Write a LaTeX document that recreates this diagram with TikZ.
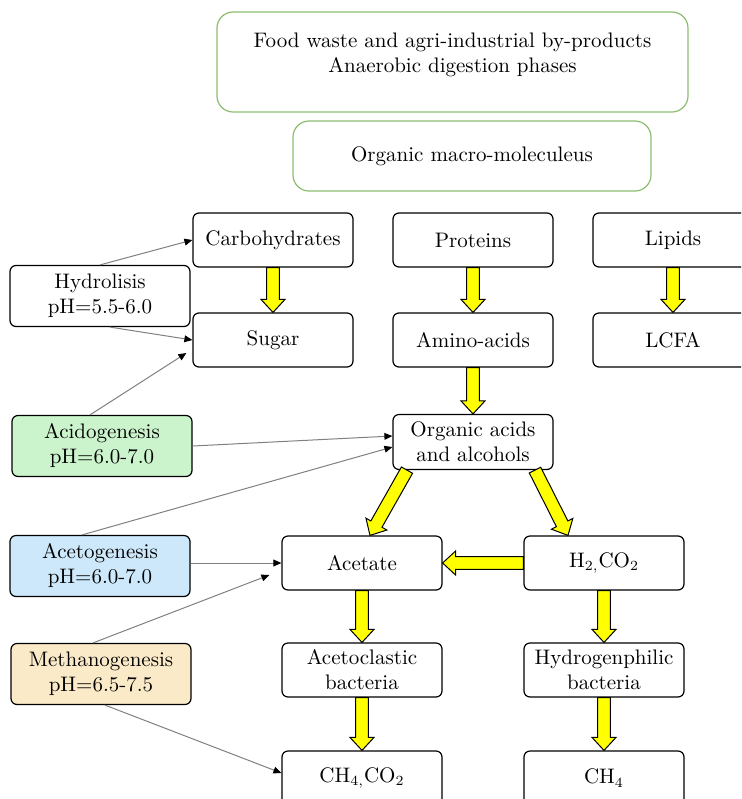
\documentclass[tikz,border=0pt]{standalone}
\usepackage{amsmath}
\usetikzlibrary{arrows.meta, calc}

\definecolor{acidgreen}{RGB}{204,244,204}
\definecolor{acetblue}{RGB}{204,232,250}
\definecolor{methbeige}{RGB}{250,234,200}
\definecolor{framegreen}{RGB}{140,190,110}
\definecolor{fatyellow}{RGB}{255,255,0}

\tikzset{
  stage/.style={draw, rounded corners=3pt, fill=white, line width=0.6pt,
    minimum width=80pt, minimum height=27pt, align=center, inner sep=1pt},
  phase/.style={stage, minimum width=90pt, minimum height=30.5pt},
  headbox/.style={draw=framegreen, rounded corners=8pt, line width=0.6pt, align=center},
  feed/.style={gray, line width=0.5pt, -{Triangle[length=4pt, width=3.4pt, color=black]}},
  fatfill/.style={fill=fatyellow, draw=black, line width=0.5pt, line join=miter}
}

% hollow yellow arrow between two anchors
\newcommand{\fatarrow}[2]{%
  \coordinate (fas) at (#1);
  \coordinate (fae) at (#2);
  \coordinate (fah) at ($(fae)!6.5pt!(fas)$);
  \filldraw[fatfill] ($(fas)!3.2pt!90:(fae)$) -- ($(fah)!3.2pt!90:(fae)$)
    -- ($(fah)!6pt!90:(fae)$) -- (fae) -- ($(fah)!6pt!-90:(fae)$)
    -- ($(fah)!3.2pt!-90:(fae)$) -- ($(fas)!3.2pt!-90:(fae)$) -- cycle;
}

\begin{document}
\begin{tikzpicture}[x=0.5pt, y=-0.5pt, font=\fontsize{10.5}{12.5}\selectfont]
    \useasboundingbox (0,0) rectangle (741,799);
    \clip (0,0) rectangle (741,799);

    % header boxes
    \node[headbox, minimum width=235.5pt, minimum height=50pt] (food) at (452.5,62) {};
    \node[align=center] (foodtext) at ([yshift=3.5pt]food.center)
      {Food waste and agri-industrial by-products\\Anaerobic digestion phases};
    \node[headbox, minimum width=179pt, minimum height=35pt] (macro) at (472,156)
      {Organic macro-moleculeus};

    % substrates and products
    \node[stage] (carb)  at (273,240) {Carbohydrates};
    \node[stage] (prot)  at (473,240) {Proteins};
    \node[stage] (lip)   at (673,240) {Lipids};
    \node[stage] (sugar) at (273,340) {Sugar};
    \node[stage] (amino) at (473,340) {Amino-acids};
    \node[stage] (lcfa)  at (673,340) {LCFA};
    \node[stage, minimum height=27.5pt] (org) at (473,442) {Organic acids\\and alcohols};
    \node[stage] (acet)  at (362,563) {Acetate};
    \node[stage] (htwo)  at (604,563) {H$_{2{,}}$CO$_2$};
    \node[stage] (acl)   at (362,670) {Acetoclastic\\bacteria};
    \node[stage] (hphil) at (604,670) {Hydrogenphilic\\bacteria};
    \node[stage] (mixgas) at (362,778) {CH$_{4{,}}$CO$_2$};
    \node[stage] (meth)  at (604,778) {CH$_4$};

    % phases
    \node[phase] (hydrol) at (100,296) {Hydrolisis\\pH=5.5-6.0};
    \node[phase, fill=acidgreen] (acid) at (102,446) {Acidogenesis\\pH=6.0-7.0};
    \node[phase, fill=acetblue] (acetg) at (100,566) {Acetogenesis\\pH=6.0-7.0};
    \node[phase, fill=methbeige] (methg) at (101,674) {Methanogenesis\\pH=6.5-7.5};

    % yellow flow arrows
    \fatarrow{carb.south}{sugar.north}
    \fatarrow{prot.south}{amino.north}
    \fatarrow{lip.south}{lcfa.north}
    \fatarrow{amino.south}{org.north}
    \fatarrow{[xshift=-33pt]org.south}{[xshift=4pt]acet.north}
    \fatarrow{[xshift=31pt]org.south}{[xshift=-18pt]htwo.north}
    \fatarrow{htwo.west}{acet.east}
    \fatarrow{acet.south}{acl.north}
    \fatarrow{acl.south}{mixgas.north}
    \fatarrow{htwo.south}{hphil.north}
    \fatarrow{hphil.south}{meth.north}

    % phase pointers
    \draw[feed] (hydrol.north) -- (carb.west);
    \draw[feed] ([xshift=5pt]hydrol.south) -- (sugar.west);
    \draw[feed] ([xshift=-6pt]acid.north) -- ([xshift=-3pt, yshift=-6.5pt]sugar.west);
    \draw[feed] (acid.east) -- ([yshift=3pt]org.west);
    \draw[feed] ([xshift=-9pt]acetg.north) -- ([yshift=-2.5pt]org.west);
    \draw[feed] (acetg.east |- acet.west) -- (acet.west);
    \draw[feed] ([xshift=-4pt]methg.north) -- ([xshift=-6pt, yshift=-6pt]acet.west);
    \draw[feed] ([xshift=2pt]methg.south) -- ([yshift=2.5pt]mixgas.west);
\end{tikzpicture}
\end{document}
